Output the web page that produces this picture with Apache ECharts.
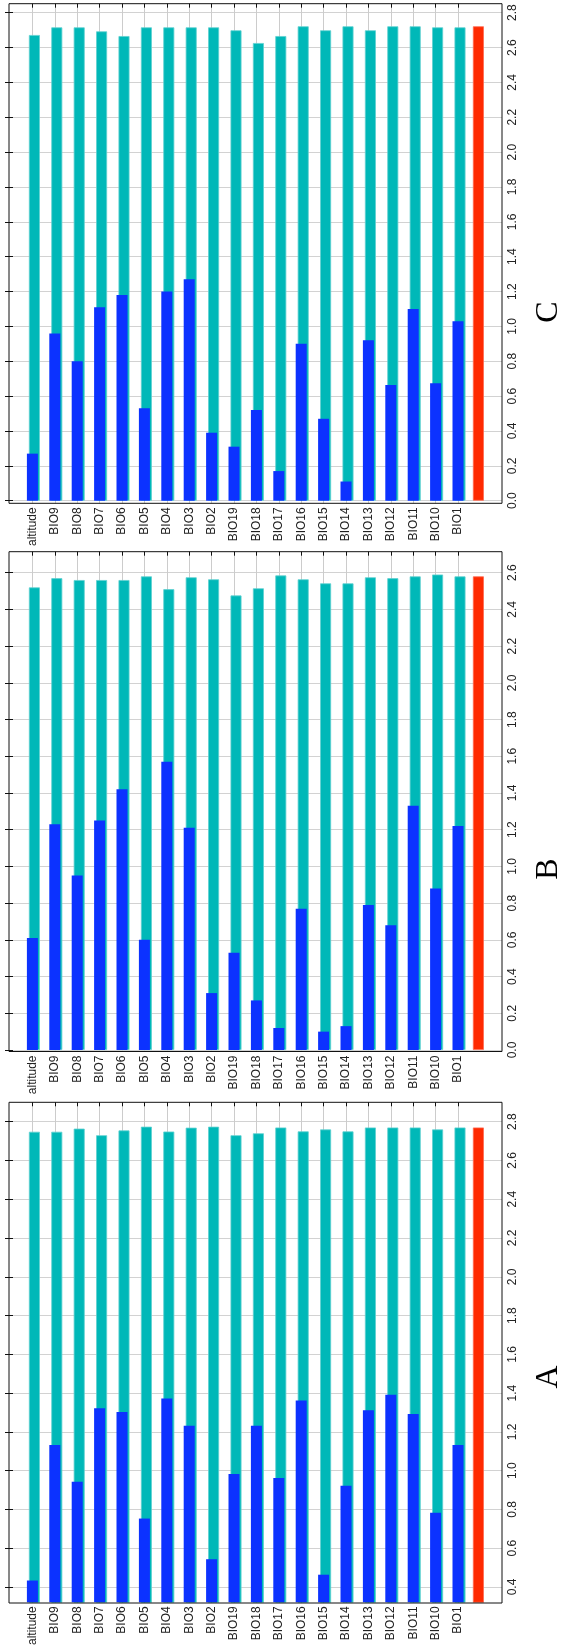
<!DOCTYPE html>
<html>
<head>
<meta charset="utf-8">
<script src="https://cdn.jsdelivr.net/npm/echarts@6/dist/echarts.min.js"></script>
<style>
html,body{margin:0;padding:0;background:#fff;}
#chart{width:573px;height:1648px;}
</style>
</head>
<body>
<div id="chart"></div>
<script>
// ---- data ----
const categories = ['altitude','BIO9','BIO8','BIO7','BIO6','BIO5','BIO4','BIO3','BIO2','BIO19','BIO18','BIO17','BIO16','BIO15','BIO14','BIO13','BIO12','BIO11','BIO10','BIO1'];

// Panel C (top)
const onlyC    = [0.27,0.96,0.80,1.11,1.18,0.53,1.20,1.27,0.39,0.31,0.52,0.17,0.90,0.47,0.11,0.92,0.664,1.10,0.674,1.03];
const withoutC = [2.672,2.716,2.716,2.693,2.666,2.716,2.716,2.716,2.716,2.699,2.626,2.666,2.722,2.699,2.722,2.699,2.722,2.722,2.716,2.716];
const allC = 2.722;
const ticksC = {min:0.0, max:2.8, step:0.2};

// Panel B (middle)
const onlyB    = [0.61,1.23,0.95,1.25,1.42,0.60,1.57,1.21,0.31,0.53,0.27,0.12,0.77,0.10,0.13,0.79,0.68,1.33,0.88,1.22];
const withoutB = [2.52,2.57,2.56,2.56,2.56,2.58,2.51,2.575,2.564,2.476,2.515,2.585,2.564,2.542,2.542,2.575,2.57,2.58,2.59,2.58];
const allB = 2.58;
const ticksB = {min:0.0, max:2.6, step:0.2};

// Panel A (bottom)
const onlyA    = [0.43,1.13,0.94,1.32,1.30,0.75,1.37,1.23,0.54,0.98,1.23,0.96,1.36,0.46,0.92,1.31,1.39,1.29,0.78,1.13];
const withoutA = [2.748,2.748,2.764,2.730,2.755,2.774,2.749,2.769,2.774,2.73,2.74,2.77,2.75,2.76,2.75,2.77,2.77,2.77,2.76,2.77];
const allA = 2.77;
const ticksA = {min:0.4, max:2.8, step:0.2};

const panelLetters = ['C','B','A'];

// ---- layout (pixels) ----
const W = 573;
const frameLeft = 9, frameRight = 502;
const slot = 22.4;
const catLeft = 21.2;
const nSlots = categories.length + 1;
const layouts = [
  {frameTop:3.7,   frameBottom:503.3, valTop:12.7,   valBottom:500.7, letterY:312},
  {frameTop:551.7, frameBottom:1051.5,valTop:572.7,  valBottom:1050,  letterY:869},
  {frameTop:1102.3,frameBottom:1603,  valTop:1121.7, valBottom:1587,  letterY:1377}
];
const panelData = [
  {only:onlyC, without:withoutC, all:allC, ticks:ticksC},
  {only:onlyB, without:withoutB, all:allB, ticks:ticksB},
  {only:onlyA, without:withoutA, all:allA, ticks:ticksA}
];

const FONT = 'Liberation Sans';
const grids = [], xAxes = [], yAxes = [], series = [], graphics = [];
const catData = categories.concat(['']);
const nReal = categories.length;
const isReal = (i) => i < nReal;

layouts.forEach((L, p) => {
  const D = panelData[p];
  const scale = (L.valBottom - L.valTop) / (D.ticks.max - D.ticks.min);
  const extMax = D.ticks.max + (L.valTop - L.frameTop) / scale;
  const extMin = D.ticks.min - (L.frameBottom - L.valBottom) / scale;

  // value grid (gridlines, value ticks & labels)
  const gV = grids.length;
  grids.push({left:frameLeft, top:L.valTop, width:frameRight-frameLeft, height:L.valBottom-L.valTop});
  xAxes.push({type:'value', gridIndex:gV, show:false});
  yAxes.push({type:'value', gridIndex:gV, position:'right', min:D.ticks.min, max:D.ticks.max, interval:D.ticks.step,
    axisLine:{show:false},
    axisTick:{show:true, inside:true, length:4, lineStyle:{color:'#111'}},
    axisLabel:{show:true, rotate:90, margin:5, fontSize:12, fontFamily:FONT, color:'#222', formatter:(v)=>v.toFixed(1)},
    splitLine:{show:true, lineStyle:{color:'#d2d2d2', width:1}}
  });
  yAxes.push({type:'value', gridIndex:gV, position:'left', min:D.ticks.min, max:D.ticks.max, interval:D.ticks.step,
    axisLine:{show:false},
    axisTick:{show:true, inside:true, length:4, lineStyle:{color:'#111'}},
    axisLabel:{show:false}, splitLine:{show:false}
  });

  // category grid (bars)
  const gC = grids.length;
  grids.push({left:catLeft, top:L.frameTop, width:slot*nSlots, height:L.frameBottom-L.frameTop});
  const xBottom = xAxes.length;
  xAxes.push({type:'category', gridIndex:gC, position:'bottom', data:catData,
    axisLine:{show:false},
    axisTick:{show:true, inside:true, alignWithLabel:true, length:4, interval:isReal, lineStyle:{color:'#111'}},
    axisLabel:{show:true, interval:0, rotate:90, margin:4, fontSize:12, fontFamily:FONT, color:'#222'},
    splitLine:{show:true, alignWithLabel:true, interval:isReal, lineStyle:{color:'#cccccc', width:1}}
  });
  xAxes.push({type:'category', gridIndex:gC, position:'top', data:catData,
    axisLine:{show:false},
    axisTick:{show:true, inside:true, alignWithLabel:true, length:4, interval:isReal, lineStyle:{color:'#111'}},
    axisLabel:{show:false}, splitLine:{show:false}
  });
  const yC = yAxes.length;
  yAxes.push({type:'value', gridIndex:gC, min:extMin, max:extMax, show:false});

  const common = {type:'bar', xAxisIndex:xBottom, yAxisIndex:yC, barWidth:11, barGap:'-81.8%', animation:false};
  series.push(Object.assign({}, common, {
    name:'With all variables', z:2,
    data: categories.map(() => null).concat([D.all]),
    itemStyle:{color:'#ff2a00', borderColor:'#ff6a50', borderWidth:0.8}
  }));
  series.push(Object.assign({}, common, {
    name:'With only variable', z:4,
    data: D.only.concat([null]),
    itemStyle:{color:'#0c32ff'}
  }));
  series.push(Object.assign({}, common, {
    name:'Without variable', z:3,
    data: D.without.concat([null]),
    itemStyle:{color:'#00b8b8', borderColor:'#5fd0d0', borderWidth:0.8}
  }));

  // frame grid (border)
  const gF = grids.length;
  grids.push({left:frameLeft, top:L.frameTop, width:frameRight-frameLeft, height:L.frameBottom-L.frameTop,
    show:true, borderColor:'#111', borderWidth:1, backgroundColor:'transparent', z:6});
  xAxes.push({type:'value', gridIndex:gF, show:false});
  yAxes.push({type:'value', gridIndex:gF, show:false});

  graphics.push({type:'text', x:549, y:L.letterY, rotation:Math.PI/2,
    style:{text:panelLetters[p], font:'32px "Liberation Serif"', fill:'#000', align:'center', verticalAlign:'middle'}});
});

const chart = echarts.init(document.getElementById('chart'), null, {renderer:'canvas'});
chart.setOption({
  animation:false,
  backgroundColor:'#ffffff',
  grid:grids, xAxis:xAxes, yAxis:yAxes, series:series,
  graphic:graphics
});
</script>
</body>
</html>
